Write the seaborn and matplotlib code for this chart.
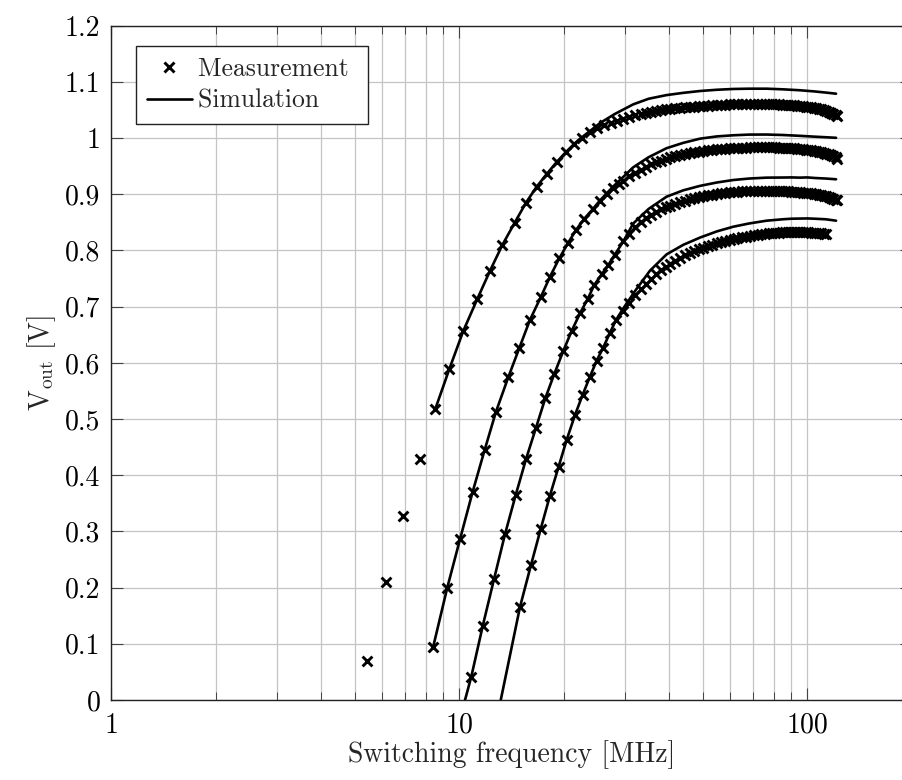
import matplotlib
matplotlib.use("Agg")
import matplotlib.pyplot as plt
from matplotlib.lines import Line2D
from matplotlib.ticker import LogLocator, NullFormatter, FixedLocator
import seaborn as sns
import pandas as pd

# ---------------- data ----------------
x_ticks = [1, 10, 100]
x_tick_labels = ["1", "10", "100"]
y_ticks = [0, 0.1, 0.2, 0.3, 0.4, 0.5, 0.6, 0.7, 0.8, 0.9, 1.0, 1.1, 1.2]
y_tick_labels = ["0", "0.1", "0.2", "0.3", "0.4", "0.5", "0.6", "0.7", "0.8", "0.9", "1", "1.1", "1.2"]

# shared frequency sweep of the dense (high-frequency) part [MHz]
f_dense = [26.0, 27.2, 28.4, 29.6, 30.8, 32.0, 33.2, 34.4, 35.6, 36.8, 38.0, 39.2, 40.4, 41.8, 43.2,
           44.6, 46.0, 47.4, 48.8, 50.2, 51.8, 53.4, 55.0, 56.6, 58.2, 59.8, 61.4, 63.0, 64.8, 66.6,
           68.4, 70.2, 72.0, 73.8, 75.6, 77.4, 79.2, 81.0, 82.8, 84.6, 86.4, 88.2, 90.0, 91.8, 93.6,
           95.4, 97.2, 99.0, 100.8, 102.6, 104.4, 106.2, 108.0, 109.8, 111.6, 113.4, 115.2, 117.0,
           118.8, 120.6, 122.0]

# measurement 1
m1_f_low = [5.44, 6.14, 6.89, 7.69, 8.52, 9.35, 10.26, 11.26, 12.25, 13.29, 14.42, 15.54, 16.68,
            17.82, 19.05, 20.21, 21.40, 22.56, 23.73, 24.81]
m1_v_low = [0.070, 0.2105, 0.328, 0.4295, 0.5173, 0.5885, 0.6567, 0.7137, 0.764, 0.8098, 0.8494,
            0.885, 0.9135, 0.936, 0.9575, 0.9747, 0.989, 1.0007, 1.0103, 1.0174]
m1_v_dense = [1.0230, 1.0270, 1.0310, 1.0345, 1.0380, 1.0412, 1.0435, 1.0455, 1.0470, 1.0485,
              1.0498, 1.0510, 1.0520, 1.0530, 1.0538, 1.0546, 1.0553, 1.0560, 1.0566, 1.0572,
              1.0578, 1.0583, 1.0588, 1.0592, 1.0596, 1.0600, 1.0603, 1.0606, 1.0608, 1.0610,
              1.0611, 1.0612, 1.0612, 1.0611, 1.0610, 1.0608, 1.0606, 1.0603, 1.0600, 1.0597,
              1.0593, 1.0589, 1.0585, 1.0581, 1.0576, 1.0571, 1.0566, 1.0561, 1.0555, 1.0548,
              1.0540, 1.0531, 1.0521, 1.0510, 1.0498, 1.0485, 1.0470, 1.0453, 1.0434, 1.0413, 1.0395]

# measurement 2
m2_f_low = [8.41, 9.23, 10.04, 10.92, 11.82, 12.74, 13.82, 14.87, 15.95, 17.13, 18.22, 19.37,
            20.56, 21.64, 22.86, 24.16, 25.36, 26.5, 27.7, 28.8]
m2_v_low = [0.0949, 0.200, 0.286, 0.3707, 0.445, 0.513, 0.5743, 0.6265, 0.6763, 0.7167, 0.7534,
            0.786, 0.8139, 0.8364, 0.8566, 0.8733, 0.888, 0.9005, 0.9107, 0.9185]
m2_v_dense = [0.9240, 0.9320, 0.9385, 0.9440, 0.9488, 0.9530, 0.9567, 0.9600, 0.9630, 0.9655,
              0.9680, 0.9700, 0.9718, 0.9734, 0.9748, 0.9760, 0.9770, 0.9780, 0.9789, 0.9797,
              0.9804, 0.9810, 0.9815, 0.9820, 0.9824, 0.9828, 0.9831, 0.9834, 0.9836, 0.9837,
              0.9838, 0.9838, 0.9837, 0.9836, 0.9834, 0.9832, 0.9829, 0.9826, 0.9823, 0.9819,
              0.9815, 0.9810, 0.9805, 0.9800, 0.9795, 0.9789, 0.9782, 0.9775, 0.9767, 0.9758,
              0.9748, 0.9737, 0.9724, 0.9710, 0.9694, 0.9676, 0.9655, 0.9635]

# measurement 3
m3_f_low = [10.82, 11.67, 12.58, 13.53, 14.52, 15.54, 16.61, 17.66, 18.74, 19.89, 21.02, 22.22,
            23.38, 24.42, 25.65, 26.8, 28.0]
m3_v_low = [0.0415, 0.1317, 0.2154, 0.2955, 0.365, 0.4285, 0.4848, 0.537, 0.5802, 0.6211, 0.6567,
            0.6882, 0.7137, 0.7386, 0.7576, 0.7742, 0.792]
m3_v_dense = [0.816, 0.830, 0.841, 0.850, 0.857, 0.863, 0.868, 0.873, 0.877, 0.880,
              0.883, 0.886, 0.8885, 0.891, 0.893, 0.895, 0.8965, 0.898, 0.8993, 0.9005,
              0.9015, 0.9025, 0.9033, 0.904, 0.9046, 0.9051, 0.9055, 0.9058, 0.906, 0.9062,
              0.9063, 0.9063, 0.9063, 0.9062, 0.906, 0.9058, 0.9056, 0.9053, 0.905, 0.9047,
              0.9043, 0.9039, 0.9035, 0.903, 0.9025, 0.902, 0.9014, 0.9007, 0.9, 0.8992,
              0.8983, 0.8973, 0.8962, 0.895, 0.8937, 0.8922, 0.8905, 0.889]

# measurement 4
m4_f_low = [14.94, 16.06, 17.13, 18.21, 19.29, 20.34, 21.49, 22.59, 23.73, 24.81, 25.9, 27.05, 28.2]
m4_v_low = [0.166, 0.240, 0.3044, 0.3637, 0.4154, 0.4629, 0.507, 0.5426, 0.5754, 0.604, 0.627,
            0.6526, 0.6763]
m4_v_dense = [0.693, 0.707, 0.720, 0.731, 0.741, 0.750, 0.758, 0.765, 0.771, 0.7765,
              0.782, 0.787, 0.7915, 0.7955, 0.799, 0.802, 0.805, 0.808, 0.8105, 0.813,
              0.815, 0.817, 0.8188, 0.8205, 0.822, 0.8235, 0.8248, 0.826, 0.827, 0.828,
              0.8288, 0.8295, 0.8302, 0.8308, 0.8313, 0.8317, 0.832, 0.8323, 0.8325, 0.8326,
              0.8327, 0.8327, 0.8326, 0.8325, 0.8323, 0.8321, 0.8318, 0.8315, 0.8311, 0.8307,
              0.8302, 0.8296, 0.829]

# simulations
s1_f = [8.52, 9.35, 10.26, 11.26, 12.25, 13.29, 14.42, 15.54, 16.68, 17.82, 19.05, 20.21, 21.40,
        22.56, 23.73, 25.4, 28.0, 31.6, 35.0, 39.4, 44.0, 49.2, 55.0, 61.3, 68.0, 76.4, 85.0, 95.3,
        105.0, 113.0, 121.0]
s1_v = [0.5173, 0.5885, 0.6567, 0.7137, 0.764, 0.8098, 0.8494, 0.885, 0.9135, 0.936, 0.9575,
        0.9747, 0.990, 1.002, 1.0125, 1.027, 1.043, 1.0600, 1.0700, 1.0765, 1.0805, 1.0838, 1.0860,
        1.0874, 1.0879, 1.0879, 1.0868, 1.0851, 1.0830, 1.0810, 1.0790]
s2_f = [8.41, 9.23, 10.04, 10.92, 11.82, 12.74, 13.82, 14.87, 15.95, 17.13, 18.22, 19.37, 20.56,
        21.64, 22.86, 24.16, 25.36, 26.5, 27.7, 29.6, 31.6, 35.0, 39.4, 44.0, 49.2, 55.0, 61.3,
        68.0, 76.4, 85.0, 95.3, 105.0, 113.0, 121.0]
s2_v = [0.0949, 0.200, 0.286, 0.3707, 0.445, 0.513, 0.5743, 0.6265, 0.6763, 0.7167, 0.7534, 0.786,
        0.8139, 0.8364, 0.8566, 0.8733, 0.889, 0.9015, 0.914, 0.931, 0.948, 0.966, 0.982, 0.9915,
        0.999, 1.003, 1.005, 1.0062, 1.0063, 1.0055, 1.0040, 1.0025, 1.0015, 1.0005]
s3_f = [10.38, 10.82, 11.67, 12.58, 13.53, 14.52, 15.54, 16.61, 17.66, 18.74, 19.89, 21.02, 22.22,
        23.38, 24.42, 25.65, 26.8, 28.0, 29.6, 31.6, 35.0, 39.4, 44.0, 49.2, 55.0, 61.3, 68.0, 76.4,
        85.0, 90.0, 95.3, 100.0, 105.0, 113.0, 121.0]
s3_v = [0.0, 0.0415, 0.1317, 0.2154, 0.2955, 0.365, 0.4285, 0.4848, 0.537, 0.5802, 0.6211, 0.6567,
        0.6882, 0.7137, 0.7386, 0.7576, 0.7742, 0.793, 0.816, 0.848, 0.874, 0.8957, 0.907, 0.915,
        0.921, 0.9254, 0.928, 0.9296, 0.9298, 0.9300, 0.9296, 0.9300, 0.9290, 0.9280, 0.9267]
s4_f = [13.15, 14.94, 16.06, 17.13, 18.21, 19.29, 20.34, 21.49, 22.59, 23.73, 24.81, 25.9, 27.05,
        28.2, 29.6, 32.0, 35.3, 39.4, 44.0, 49.2, 55.0, 61.3, 68.0, 76.4, 85.0, 90.0, 100.0, 105.0,
        113.0, 121.0]
s4_v = [0.0, 0.166, 0.240, 0.3044, 0.3637, 0.4154, 0.4629, 0.507, 0.5426, 0.5754, 0.604, 0.627,
        0.6526, 0.6763, 0.697, 0.728, 0.764, 0.793, 0.810, 0.823, 0.834, 0.8423, 0.848, 0.853,
        0.8555, 0.8565, 0.857, 0.8565, 0.8555, 0.853]

legend_labels = ["Measurement", "Simulation"]
x_label = "Switching frequency [MHz]"
y_label = r"$\mathrm{V}_{\mathrm{out}}$ [V]"

# ---------------- build tables ----------------
meas_rows = []
for name, fl, vl, vd, start in [("1", m1_f_low, m1_v_low, m1_v_dense, 0),
                                ("2", m2_f_low, m2_v_low, m2_v_dense, 3),
                                ("3", m3_f_low, m3_v_low, m3_v_dense, 3),
                                ("4", m4_f_low, m4_v_low, m4_v_dense, 3)]:
    for f, v in zip(fl, vl):
        meas_rows.append((name, f, v))
    for f, v in zip(f_dense[start:], vd):
        meas_rows.append((name, f, v))
meas = pd.DataFrame(meas_rows, columns=["series", "f", "V"])

sim_rows = []
for name, fl, vl in [("1", s1_f, s1_v), ("2", s2_f, s2_v), ("3", s3_f, s3_v), ("4", s4_f, s4_v)]:
    for f, v in zip(fl, vl):
        sim_rows.append((name, f, v))
sim = pd.DataFrame(sim_rows, columns=["series", "f", "V"])

# ---------------- style ----------------
sns.set_style("ticks")
plt.rcParams["font.family"] = ["cmr10", "DejaVu Serif"]
plt.rcParams["mathtext.fontset"] = "cm"
plt.rcParams["axes.formatter.use_mathtext"] = True
plt.rcParams["axes.unicode_minus"] = False

W, H = 903, 780
fig = plt.figure(figsize=(W / 100, H / 100), dpi=100)
ax_left, ax_right, ax_top, ax_bottom = 111.5, 912.0, 25.7, 700.0
ax = fig.add_axes([ax_left / W, (H - ax_bottom) / H, (ax_right - ax_left) / W, (ax_bottom - ax_top) / H])

ax.set_xscale("log")
ax.set_xlim(1, 200)
ax.set_ylim(0, 1.2)

grid_kw = dict(color="#c4c4c4", linewidth=0.9)
ax.set_axisbelow(True)

sns.scatterplot(data=meas, x="f", y="V", marker="x", color="black", s=50, linewidth=2.1,
                ax=ax, legend=False, zorder=3)
for name, grp in sim.groupby("series"):
    sns.lineplot(data=grp, x="f", y="V", color="black", linewidth=1.9, ax=ax,
                 estimator=None, sort=False, legend=False, zorder=4)

ax.set_xticks(x_ticks)
ax.set_xticklabels(x_tick_labels)
ax.xaxis.set_minor_locator(LogLocator(base=10, subs=[2, 3, 4, 5, 6, 7, 8, 9], numticks=20))
ax.xaxis.set_minor_formatter(NullFormatter())
ax.set_yticks(y_ticks)
ax.set_yticklabels(y_tick_labels)
ax.yaxis.set_minor_locator(FixedLocator([]))

ax.grid(True, which="both", axis="x", **grid_kw)
ax.grid(True, which="major", axis="y", **grid_kw)

ax.tick_params(which="both", direction="in", top=True, right=True, colors="#444444",
               labelcolor="black", labelsize=20)
ax.tick_params(which="major", length=8.5, width=0.8)
ax.tick_params(which="minor", length=5.5, width=0.7)
ax.tick_params(axis="x", pad=9)
ax.tick_params(axis="y", pad=8)

for sp in ax.spines.values():
    sp.set_visible(True)
    sp.set_color("#222222")
    sp.set_linewidth(1.0)

ax.set_xlabel(x_label, fontsize=20, labelpad=1)
ax.set_ylabel(y_label, fontsize=20, labelpad=5)

handles = [Line2D([], [], marker="x", linestyle="none", color="black", markersize=6.5, markeredgewidth=2.1),
           Line2D([], [], color="black", linewidth=1.9)]
leg = ax.legend(handles, legend_labels, loc="upper left",
                bbox_to_anchor=((136 - ax_left) / (ax_right - ax_left), (ax_bottom - 46) / (ax_bottom - ax_top)),
                borderaxespad=0, fontsize=18.5, frameon=True, fancybox=False, framealpha=1,
                edgecolor="#222222", handlelength=1.75, handletextpad=0.25, borderpad=0.42,
                labelspacing=0.33)
leg.get_frame().set_linewidth(1.0)
# a little extra space on the right of the legend text, as in the reference
for t in leg.get_texts():
    t.set_text(t.get_text() + " ")

fig.savefig("out.png", dpi=100)
